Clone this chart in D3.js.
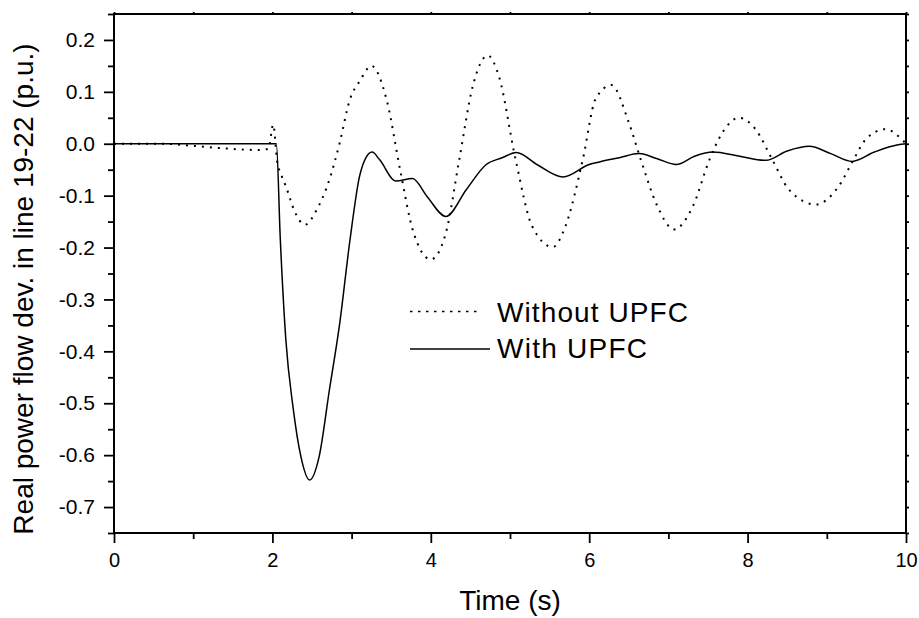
<!DOCTYPE html>
<html lang="en">

<head>
    <meta charset="UTF-8">
    <title>Real power flow deviation</title>
    <script src="https://d3js.org/d3.v7.min.js"></script>
    <style>
        body { margin: 0; background: #fff; }
        text { font-family: "Liberation Sans", Arial, sans-serif; fill: #000; }
    </style>
</head>

<body>
    <div id="chart"></div>

    <script>
        const width = 919;
        const height = 618;
        const margin = { top: 14, right: 12, bottom: 85, left: 114 };

        // Without UPFC (dotted)
        const timeWithout = [0, 0.6, 1.0, 1.4, 1.8, 1.95, 2.01, 2.06, 2.11, 2.17, 2.28, 2.41, 2.56, 2.72, 2.85, 2.98,
            3.1, 3.25, 3.44, 3.62, 3.77, 4.0, 4.19, 4.36, 4.53, 4.72, 4.86, 5.07, 5.28, 5.54, 5.7, 5.92, 6.08, 6.28,
            6.5, 6.65, 6.86, 7.07, 7.31, 7.52, 7.68, 7.89, 8.1, 8.31, 8.52, 8.86, 9.15, 9.34, 9.49, 9.74, 9.95, 10];
        const powerWithout = [0, 0, -0.004, -0.009, -0.012, -0.010, 0.037, -0.034, -0.059, -0.082, -0.130, -0.156, -0.127, -0.069, 0.002, 0.086,
            0.120, 0.150, 0.086, -0.056, -0.165, -0.223, -0.172, -0.030, 0.111, 0.170, 0.130, -0.030, -0.159, -0.199, -0.159, -0.030, 0.086, 0.113,
            0.041, -0.030, -0.120, -0.165, -0.120, -0.030, 0.021, 0.050, 0.028, -0.030, -0.088, -0.117, -0.082, -0.030, 0.008, 0.028, 0.008, 0.0];

        // With UPFC (solid)
        const timeWith = [0, 2.05, 2.10, 2.17, 2.26, 2.36, 2.47, 2.59, 2.72, 2.85, 2.98, 3.10, 3.18, 3.26, 3.35, 3.56, 3.77,
            3.95, 4.19, 4.45, 4.70, 4.90, 5.08, 5.35, 5.67, 6.0, 6.13, 6.38, 6.63, 6.86, 7.10, 7.33, 7.56, 7.9, 8.23, 8.5,
            8.78, 9.05, 9.32, 9.6, 9.9, 10];
        const powerWith = [0, 0, -0.185, -0.378, -0.507, -0.603, -0.648, -0.603, -0.474, -0.346, -0.185, -0.063, -0.027, -0.016, -0.030, -0.072, -0.067,
            -0.101, -0.140, -0.088, -0.040, -0.027, -0.017, -0.041, -0.064, -0.040, -0.035, -0.027, -0.019, -0.029, -0.040, -0.024, -0.016, -0.024, -0.032, -0.014,
            -0.005, -0.019, -0.034, -0.016, -0.002, 0];

        const xTicks = [0, 2, 4, 6, 8, 10];
        const yTicks = [-0.7, -0.6, -0.5, -0.4, -0.3, -0.2, -0.1, 0.0, 0.1, 0.2];
        const legendLabels = ["Without UPFC", "With UPFC"];

        const xMinor = d3.range(1, 10, 2);
        const yMinor = yTicks.map(d => d + 0.05).concat([-0.75]);

        // Scales
        const xScale = d3.scaleLinear()
            .domain([0, 10])
            .range([margin.left, width - margin.right - 1]);

        const yScale = d3.scaleLinear()
            .domain([-0.75, 0.25])
            .range([height - margin.bottom, margin.top]);

        const svg = d3.select("#chart")
            .append("svg")
            .attr("width", width)
            .attr("height", height);

        const fmt = d => d.toFixed(1);

        // Bottom axis (major + minor)
        const xAxis = svg.append("g")
            .attr("transform", `translate(0,${height - margin.bottom})`)
            .call(d3.axisBottom(xScale).tickValues(xTicks).tickSize(10).tickSizeOuter(0).tickPadding(10));
        xAxis.selectAll("text").style("font-size", "20px");

        svg.append("g")
            .attr("transform", `translate(0,${height - margin.bottom})`)
            .call(d3.axisBottom(xScale).tickValues(xMinor).tickSize(6).tickSizeOuter(0).tickFormat(""));

        // Left axis (major + minor)
        const yAxis = svg.append("g")
            .attr("transform", `translate(${margin.left},0)`)
            .call(d3.axisLeft(yScale).tickValues(yTicks).tickSize(10).tickSizeOuter(0).tickPadding(9).tickFormat(fmt));
        yAxis.selectAll("text").style("font-size", "21px");

        svg.append("g")
            .attr("transform", `translate(${margin.left},0)`)
            .call(d3.axisLeft(yScale).tickValues(yMinor).tickSize(6).tickSizeOuter(0).tickFormat(""));

        // Top and right axes: small ticks, no labels
        svg.append("g")
            .attr("transform", `translate(0,${margin.top})`)
            .call(d3.axisTop(xScale).ticks(10).tickSize(2).tickSizeOuter(0).tickFormat(""));

        svg.append("g")
            .attr("transform", `translate(${width - margin.right - 1},0)`)
            .call(d3.axisRight(yScale).tickValues(yTicks.concat(yMinor)).tickSize(3).tickSizeOuter(0).tickFormat(""));

        svg.selectAll(".domain").remove();
        svg.selectAll(".tick line").attr("stroke", "#000").attr("stroke-width", 1.8);

        // Frame
        svg.append("rect")
            .attr("x", xScale(0))
            .attr("y", yScale(0.25))
            .attr("width", xScale(10) - xScale(0))
            .attr("height", yScale(-0.75) - yScale(0.25))
            .attr("fill", "none")
            .attr("stroke", "#000")
            .attr("stroke-width", 2);

        // Curves
        const line = d3.line()
            .x(d => xScale(d[0]))
            .y(d => yScale(d[1]))
            .curve(d3.curveMonotoneX);

        svg.append("path")
            .datum(d3.zip(timeWithout, powerWithout))
            .attr("d", line)
            .attr("fill", "none")
            .attr("stroke", "#000")
            .attr("stroke-width", 2)
            .attr("stroke-dasharray", "2,6");

        svg.append("path")
            .datum(d3.zip(timeWith, powerWith))
            .attr("d", line)
            .attr("fill", "none")
            .attr("stroke", "#000")
            .attr("stroke-width", 1.5);

        // Legend
        const legend = svg.append("g");
        legend.append("line")
            .attr("x1", 410).attr("x2", 482)
            .attr("y1", 311.5).attr("y2", 311.5)
            .attr("stroke", "#000")
            .attr("stroke-width", 1.3)
            .attr("stroke-dasharray", "2.5,5.5");
        legend.append("line")
            .attr("x1", 410).attr("x2", 490)
            .attr("y1", 349).attr("y2", 349)
            .attr("stroke", "#000")
            .attr("stroke-width", 1.5);
        legend.append("text")
            .attr("x", 497).attr("y", 322)
            .attr("textLength", 191)
            .attr("lengthAdjust", "spacing")
            .style("font-size", "28px")
            .text(legendLabels[0]);
        legend.append("text")
            .attr("x", 497).attr("y", 358)
            .attr("textLength", 150)
            .attr("lengthAdjust", "spacing")
            .style("font-size", "28px")
            .text(legendLabels[1]);

        // Axis titles
        svg.append("text")
            .attr("x", (xScale(0) + xScale(10)) / 2)
            .attr("y", 610)
            .attr("text-anchor", "middle")
            .style("font-size", "28px")
            .text("Time (s)");

        svg.append("text")
            .attr("transform", `translate(33,${289}) rotate(-90)`)
            .attr("text-anchor", "middle")
            .style("font-size", "28px")
            .text("Real power flow dev. in line 19-22 (p.u.)");
    </script>
</body>

</html>
